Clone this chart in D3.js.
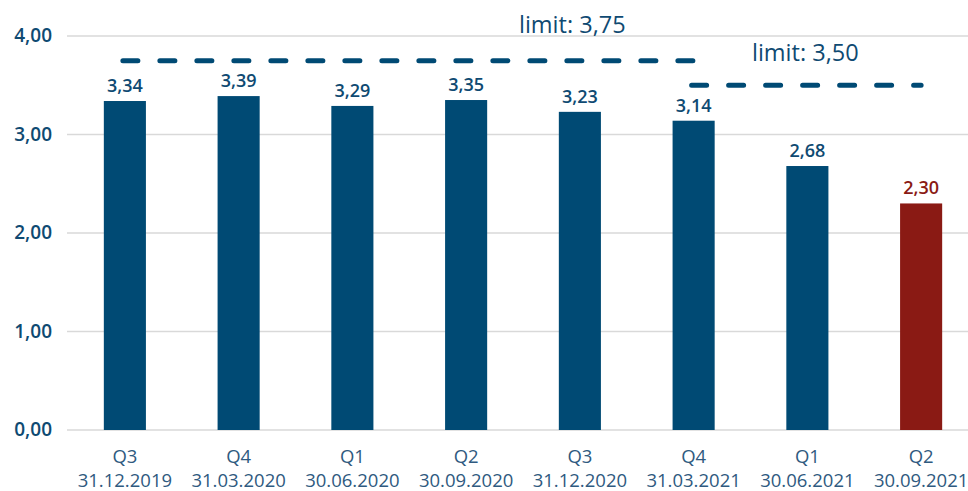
<!DOCTYPE html>
<html><head><meta charset="utf-8">
<script src="https://cdn.jsdelivr.net/npm/d3@7"></script>
<style>body{margin:0;background:#fff}svg{display:block}text{font-family:"Open Sans",sans-serif}</style>
</head><body><svg id="c" width="968" height="491"></svg>
<script>
const quarters = ["Q3","Q4","Q1","Q2","Q3","Q4","Q1","Q2"];
const dates = ["31.12.2019","31.03.2020","30.06.2020","30.09.2020","31.12.2020","31.03.2021","30.06.2021","30.09.2021"];
const values = [3.34,3.39,3.29,3.35,3.23,3.14,2.68,2.30];
const yTicks = [0,1,2,3,4];
const limits = [{v:3.75,from:0,to:5,label:"limit: 3,75"},{v:3.50,from:5,to:7,label:"limit: 3,50"}];

const svg = d3.select("#c");
const blue = "#004a74", red = "#8a1a14", txt = "#0f4a72";
const x = d3.scaleBand().domain(d3.range(values.length)).range([68,978]).paddingInner(0.63).paddingOuter(0.315);
const y = d3.scaleLinear().domain([0,4]).range([430,36]);
const fmt = v => v.toFixed(2).replace(".",",");

svg.append("g").selectAll("line").data(yTicks).join("line")
  .attr("x1",67).attr("x2",968).attr("y1",d=>y(d)).attr("y2",d=>y(d))
  .attr("stroke","#d9d9d9").attr("stroke-width",1.5);
svg.append("g").selectAll("text").data(yTicks).join("text")
  .attr("x",52).attr("y",d=>y(d)+6).attr("text-anchor","end")
  .attr("font-size",19).attr("font-weight",600).attr("fill",txt).text(fmt);

svg.append("g").selectAll("rect").data(values).join("rect")
  .attr("x",(d,i)=>x(i)).attr("width",x.bandwidth())
  .attr("y",d=>y(d)).attr("height",d=>y(0)-y(d))
  .attr("fill",(d,i)=>i===values.length-1?red:blue);
svg.append("g").selectAll("text").data(values).join("text")
  .attr("x",(d,i)=>x(i)+x.bandwidth()/2).attr("y",d=>y(d)-9).attr("text-anchor","middle")
  .attr("font-size",18).attr("font-weight",600)
  .attr("fill",(d,i)=>i===values.length-1?red:txt).text(fmt);

const cx = i => x(i)+x.bandwidth()/2;
const cat = svg.append("g").selectAll("text").data(quarters).join("text")
  .attr("text-anchor","middle").attr("font-size",18.5).attr("fill","#2f5a80");
cat.append("tspan").attr("x",(d,i)=>cx(i)).attr("y",463).text(d=>d);
cat.append("tspan").attr("x",(d,i)=>cx(i)).attr("y",487).text((d,i)=>dates[i]);

svg.append("g").selectAll("line").data(limits).join("line")
  .attr("x1",d=>cx(d.from)-2).attr("x2",d=>cx(d.to)).attr("y1",d=>y(d.v)).attr("y2",d=>y(d.v))
  .attr("stroke",blue).attr("stroke-width",5).attr("stroke-linecap","round")
  .attr("stroke-dasharray","15 22");
svg.append("text").attr("x",519).attr("y",33).attr("font-size",23.5).attr("fill",txt).text(limits[0].label);
svg.append("text").attr("x",752).attr("y",61).attr("font-size",23.5).attr("fill",txt).text(limits[1].label);
</script></body></html>
